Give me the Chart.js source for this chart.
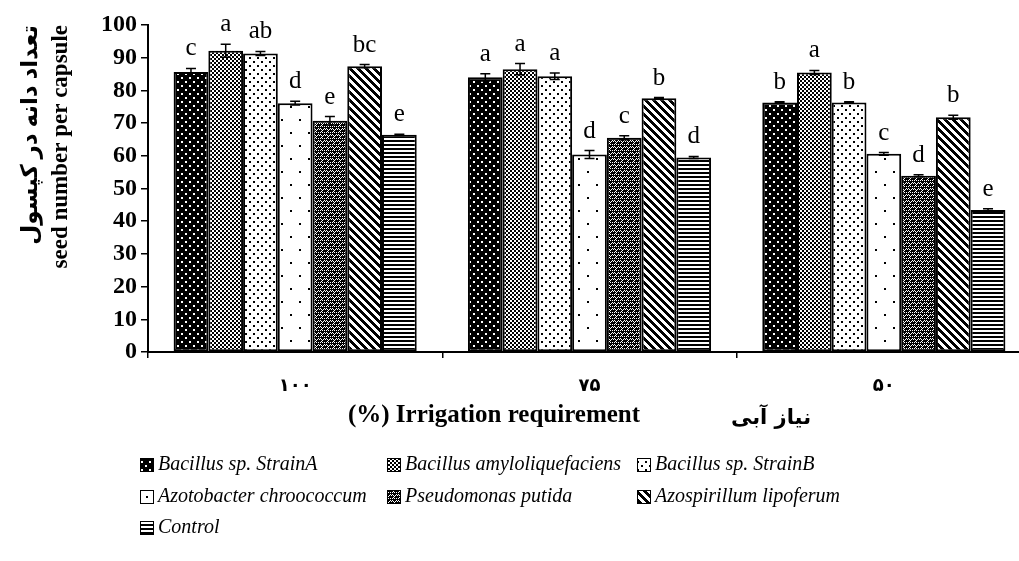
<!DOCTYPE html>
<html>
<head>
<meta charset="utf-8">
<script src="https://cdn.jsdelivr.net/npm/chart.js@4.4.1/dist/chart.umd.min.js"></script>
<style>
  html, body { margin: 0; padding: 0; background: #fff; overflow: hidden; }
  #wrap { width: 1031px; height: 561px; }
</style>
</head>
<body>
<div id="wrap"><canvas id="c" width="1031" height="561"></canvas></div>
<script>
// ---- data ----
const categories = ['۱۰۰', '۷۵', '۵۰'];
const seriesNames = ['Bacillus sp. StrainA', 'Bacillus amyloliquefaciens', 'Bacillus sp. StrainB',
  'Azotobacter chroococcum', 'Pseudomonas putida', 'Azospirillum lipoferum', 'Control'];

const strainA = [85.6, 84.0, 76.3];
const amylo   = [92.1, 86.5, 85.5];
const strainB = [91.3, 84.3, 76.3];
const azoto   = [76.1, 60.4, 60.6];
const pseudo  = [70.7, 65.5, 53.9];
const azosp   = [87.4, 77.6, 71.8];
const control = [66.4, 59.5, 43.4];

const errStrainA = [1.1, 1.1, 0.2];
const errAmylo   = [2.0, 1.7, 0.6];
const errStrainB = [0.6, 1.0, 0.2];
const errAzoto   = [0.6, 1.2, 0.4];
const errPseudo  = [1.3, 0.6, 0.3];
const errAzosp   = [0.5, 0.2, 0.6];
const errControl = [0.2, 0.3, 0.4];

const letStrainA = ['c', 'a', 'b'];
const letAmylo   = ['a', 'a', 'a'];
const letStrainB = ['ab', 'a', 'b'];
const letAzoto   = ['d', 'd', 'c'];
const letPseudo  = ['e', 'c', 'd'];
const letAzosp   = ['bc', 'b', 'b'];
const letControl = ['e', 'd', 'e'];

const yTickStep = 10;
const yAxisTitle = ['تعداد دانه در کپسول', 'seed number per capsule'];
const xAxisTitleEn = '(%) Irrigation requirement';
const xAxisTitleFa = 'نیاز آبی';

const seriesValues = [strainA, amylo, strainB, azoto, pseudo, azosp, control];
const seriesErrors = [errStrainA, errAmylo, errStrainB, errAzoto, errPseudo, errAzosp, errControl];
const seriesLetters = [letStrainA, letAmylo, letStrainB, letAzoto, letPseudo, letAzosp, letControl];

// ---- patterns ----
function makePattern(w, h, draw) {
  const t = document.createElement('canvas');
  t.width = w; t.height = h;
  const g = t.getContext('2d');
  draw(g, w, h);
  return document.getElementById('c').getContext('2d').createPattern(t, 'repeat');
}
const patterns = [
  makePattern(8, 8, (g) => { g.fillStyle = '#000'; g.fillRect(0,0,8,8); g.fillStyle = '#fff'; g.fillRect(1,1,2,2); g.fillRect(5,5,2,2); }),
  makePattern(4, 4, (g) => { g.fillStyle = '#fff'; g.fillRect(0,0,4,4); g.fillStyle = '#000'; g.fillRect(0,0,2,2); g.fillRect(2,2,2,2); }),
  makePattern(8, 8, (g) => { g.fillStyle = '#fff'; g.fillRect(0,0,8,8); g.fillStyle = '#000'; g.fillRect(1,1,2,2); g.fillRect(5,5,2,2); }),
  makePattern(18, 26, (g) => { g.fillStyle = '#fff'; g.fillRect(0,0,18,26); g.fillStyle = '#000'; g.fillRect(2,2,2,2); g.fillRect(11,15,2,2); }),
  makePattern(6, 6, (g) => { g.fillStyle = '#000'; g.fillRect(0,0,6,6); g.fillStyle = '#fff'; g.fillRect(0,0,1,1); g.fillRect(2,0,1,1); g.fillRect(4,0,1,1); g.fillRect(1,3,1,1); g.fillRect(3,3,1,1); g.fillRect(5,3,1,1); g.fillRect(0,2,1,1); g.fillRect(3,5,1,1); g.fillRect(2,2,1,1); g.fillRect(4,4,1,1); }),
  makePattern(8, 8, (g) => { g.fillStyle = '#fff'; g.fillRect(0,0,8,8); g.fillStyle = '#000';
    for (let y = 0; y < 8; y++) for (let x = 0; x < 8; x++) if (((x - y) % 8 + 8) % 8 < 4) g.fillRect(x, y, 1, 1); }),
  makePattern(4, 4, (g) => { g.fillStyle = '#fff'; g.fillRect(0,0,4,4); g.fillStyle = '#000'; g.fillRect(0,0,4,2); })
];

const datasets = seriesNames.map((name, i) => ({
  label: name,
  data: seriesValues[i],
  backgroundColor: patterns[i],
  borderColor: '#000',
  borderWidth: 2,
  borderSkipped: false,
  barPercentage: 1.0,
  categoryPercentage: 0.826
}));

const serif = '"Liberation Serif", "Times New Roman", "DejaVu Sans", serif';

const annotPlugin = {
  id: 'annot',
  afterDatasetsDraw(chart) {
    const ctx = chart.ctx;
    const ys = chart.scales.y;
    chart.data.datasets.forEach((ds, i) => {
      const meta = chart.getDatasetMeta(i);
      meta.data.forEach((bar, j) => {
        const v = ds.data[j], e = seriesErrors[i][j];
        const x = bar.x;
        const yHi = ys.getPixelForValue(v + e);
        const yLo = ys.getPixelForValue(v - e);
        ctx.save();
        ctx.strokeStyle = '#000';
        ctx.lineWidth = 1.5;
        ctx.beginPath();
        ctx.moveTo(x, yHi); ctx.lineTo(x, yLo);
        ctx.moveTo(x - 5, yHi); ctx.lineTo(x + 5, yHi);
        ctx.moveTo(x - 5, yLo); ctx.lineTo(x + 5, yLo);
        ctx.stroke();
        ctx.fillStyle = '#000';
        ctx.font = '25px ' + serif;
        ctx.textAlign = 'center';
        ctx.textBaseline = 'alphabetic';
        ctx.fillText(seriesLetters[i][j], x, yHi - 13);
        ctx.restore();
      });
    });
  },
  afterDraw(chart) {
    const ctx = chart.ctx;
    ctx.save();
    ctx.fillStyle = '#000';
    ctx.textBaseline = 'middle';
    ctx.textAlign = 'center';
    ctx.font = 'bold 25px ' + serif;
    ctx.fillText(xAxisTitleEn, 494, 416);
    ctx.font = 'bold 21px "DejaVu Sans", sans-serif';
    ctx.fillText(xAxisTitleFa, 771, 419);
    // legend
    ctx.textAlign = 'left';
    ctx.font = 'italic 20px ' + serif;
    const colX = [140, 387, 637];
    const rowY = [465, 497, 528];
    seriesNames.forEach((name, i) => {
      const cx = colX[i % 3], cy = rowY[Math.floor(i / 3)];
      ctx.fillStyle = patterns[i];
      ctx.fillRect(cx, cy - 7, 14, 14);
      ctx.strokeStyle = '#000';
      ctx.lineWidth = 1;
      ctx.strokeRect(cx + 0.5, cy - 6.5, 13, 13);
      ctx.fillStyle = '#000';
      ctx.fillText(name, cx + 18, cy);
    });
    ctx.restore();
  }
};

new Chart(document.getElementById('c'), {
  type: 'bar',
  data: { labels: categories, datasets },
  options: {
    responsive: false,
    animation: false,
    devicePixelRatio: 1,
    layout: { padding: { top: 25, right: 0, bottom: 0, left: 0 } },
    plugins: { legend: { display: false }, tooltip: { enabled: false } },
    scales: {
      x: {
        afterFit(scale) { scale.height = 209; },
        grid: { offset: true, drawOnChartArea: false, drawTicks: true, tickLength: 6, color: '#000', lineWidth: 1.5 },
        border: { display: true, color: '#000', width: 2 },
        ticks: { color: '#000', padding: 18, font: { family: '"DejaVu Sans", sans-serif', weight: 'bold', size: 18 } }
      },
      y: {
        min: 0, max: 100,
        afterFit(scale) { scale.width = 148; },
        grid: { drawOnChartArea: false, drawTicks: true, tickLength: 7, color: '#000', lineWidth: 1.5 },
        border: { display: true, color: '#000', width: 2 },
        ticks: { stepSize: yTickStep, color: '#000', padding: 4, font: { family: serif, weight: 'bold', size: 24 } },
        title: {
          display: true, text: yAxisTitle, align: 'end', color: '#000',
          padding: { top: 16, bottom: 0 },
          font: { family: serif, weight: 'bold', size: 23, lineHeight: '30px' }
        }
      }
    }
  },
  plugins: [annotPlugin]
});
</script>
</body>
</html>
